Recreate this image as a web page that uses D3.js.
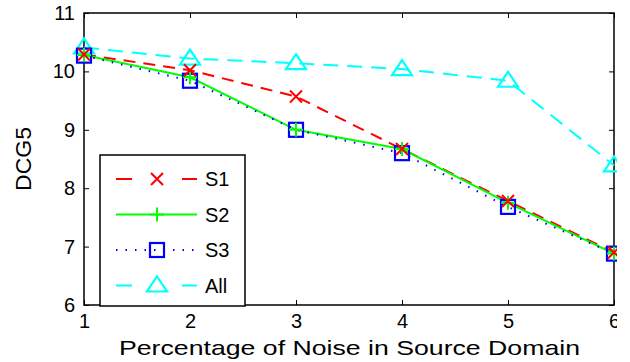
<!DOCTYPE html>
<html>
<head>
<meta charset="utf-8">
<script src="https://cdn.jsdelivr.net/npm/d3@7"></script>
<style>
  body { margin: 0; background: #fff; }
  text { font-family: "Liberation Sans", Arial, sans-serif; }
</style>
</head>
<body>
<svg id="chart"></svg>
<script>
const noise = [1, 2, 3, 4, 5, 6];
const s1 = [10.29, 10.02, 9.57, 8.67, 7.78, 6.9];
const s2 = [10.28, 9.9, 9.0, 8.67, 7.75, 6.88];
const s3 = [10.27, 9.84, 9.0, 8.6, 7.68, 6.88];
const all = [10.41, 10.22, 10.14, 10.04, 9.84, 8.39];
const yTicks = [6, 7, 8, 9, 10, 11];

const series = [
  { name: 'S1', values: s1, color: '#ff0000', dash: '12,8', legendDash: '16,50', marker: 'x' },
  { name: 'S2', values: s2, color: '#00ff00', dash: null, legendDash: null, marker: 'plus' },
  { name: 'S3', values: s3, color: '#0000ff', dash: '1.5,8', legendDash: '1.5,8', marker: 'square' },
  { name: 'All', values: all, color: '#00ffff', dash: '15,9', legendDash: '16,50', marker: 'triangle' }
];

const width = 630, height = 362;
const margin = { left: 84, right: 16, top: 13, bottom: 57 };

const svg = d3.select('#chart').attr('width', width).attr('height', height);

// the original figure is cropped just right of the axis
svg.append('clipPath').attr('id', 'crop')
  .append('rect').attr('x', 0).attr('y', 0).attr('width', 617).attr('height', height);

const g = svg.append('g').attr('clip-path', 'url(#crop)');

const x = d3.scaleLinear().domain([1, 6]).range([margin.left, width - margin.right]);
const y = d3.scaleLinear().domain([6, 11]).range([height - margin.bottom, margin.top]);

// frame
g.append('rect')
  .attr('x', x(1)).attr('y', y(11))
  .attr('width', x(6) - x(1)).attr('height', y(6) - y(11))
  .attr('fill', 'none').attr('stroke', '#000').attr('stroke-width', 1.5);

const xAxis = g.append('g')
  .attr('transform', `translate(0,${y(6)})`)
  .call(d3.axisBottom(x).tickValues(noise).tickSize(-5).tickPadding(9).tickFormat(d3.format('d')));
const yAxis = g.append('g')
  .attr('transform', `translate(${x(1)},0)`)
  .call(d3.axisLeft(y).tickValues(yTicks).tickSize(-5).tickPadding(9).tickFormat(d3.format('d')));
// mirrored ticks on top / right
g.append('g').attr('transform', `translate(0,${y(11)})`)
  .call(d3.axisTop(x).tickValues(noise).tickSize(-5).tickFormat(''));
g.append('g').attr('transform', `translate(${x(6)},0)`)
  .call(d3.axisRight(y).tickValues(yTicks).tickSize(-5).tickFormat(''));

g.selectAll('.domain').remove();
g.selectAll('.tick line').attr('stroke', '#000');
g.selectAll('g').attr('font-family', null).attr('font-size', null);
g.selectAll('.tick text').style('font-size', '20px').attr('fill', '#000');
xAxis.selectAll('.tick text').attr('dy', '0.72em');

// lines
const line = d3.line().x((d, i) => x(noise[i])).y(d => y(d));

series.forEach(s => {
  g.append('path')
    .datum(s.values)
    .attr('d', line)
    .attr('fill', 'none')
    .attr('stroke', s.color)
    .attr('stroke-width', 2)
    .attr('stroke-dasharray', s.dash);
});

function drawMarker(sel, type, color, cx, cy) {
  const r = 6;
  if (type === 'x') {
    sel.append('path')
      .attr('d', `M${cx - r},${cy - r}L${cx + r},${cy + r}M${cx - r},${cy + r}L${cx + r},${cy - r}`)
      .attr('stroke', color).attr('stroke-width', 2).attr('fill', 'none');
  } else if (type === 'plus') {
    sel.append('path')
      .attr('d', `M${cx - 7},${cy}L${cx + 7},${cy}M${cx},${cy - 7}L${cx},${cy + 7}`)
      .attr('stroke', color).attr('stroke-width', 2).attr('fill', 'none');
  } else if (type === 'square') {
    sel.append('rect')
      .attr('x', cx - 7).attr('y', cy - 7).attr('width', 14).attr('height', 14)
      .attr('stroke', color).attr('stroke-width', 2.2).attr('fill', 'none');
  } else if (type === 'triangle') {
    sel.append('path')
      .attr('d', `M${cx},${cy - 9}L${cx + 10},${cy + 6}L${cx - 10},${cy + 6}Z`)
      .attr('stroke', color).attr('stroke-width', 2.2).attr('fill', 'none');
  }
}

// markers, drawn in reverse so S1/S2 sit on top
[...series].reverse().forEach(s => {
  s.values.forEach((v, i) => drawMarker(g, s.marker, s.color, x(noise[i]), y(v)));
});

// legend
const lg = g.append('g').attr('transform', 'translate(100,155)');
lg.append('rect').attr('x', 0).attr('y', 0).attr('width', 145).attr('height', 151)
  .attr('fill', '#fff').attr('stroke', '#000').attr('stroke-width', 1.5);

series.forEach((s, i) => {
  const ly = 24 + i * 35.5;
  lg.append('line')
    .attr('x1', 16).attr('x2', 97).attr('y1', ly).attr('y2', ly)
    .attr('stroke', s.color).attr('stroke-width', 2)
    .attr('stroke-dasharray', s.legendDash);
  drawMarker(lg, s.marker, s.color, 57, ly);
  lg.append('text').attr('x', 105).attr('y', ly).attr('dy', '0.36em')
    .style('font-size', '20px').attr('fill', '#000').text(s.name);
});

// axis titles
svg.append('text')
  .attr('x', 119).attr('y', 355)
  .attr('textLength', 461).attr('lengthAdjust', 'spacingAndGlyphs')
  .style('font-size', '21px')
  .text('Percentage of Noise in Source Domain');

svg.append('text')
  .attr('transform', `translate(31,${y(8.5) + 32}) rotate(-90)`)
  .attr('textLength', 64).attr('lengthAdjust', 'spacingAndGlyphs')
  .style('font-size', '22px')
  .text('DCG5');
</script>
</body>
</html>
